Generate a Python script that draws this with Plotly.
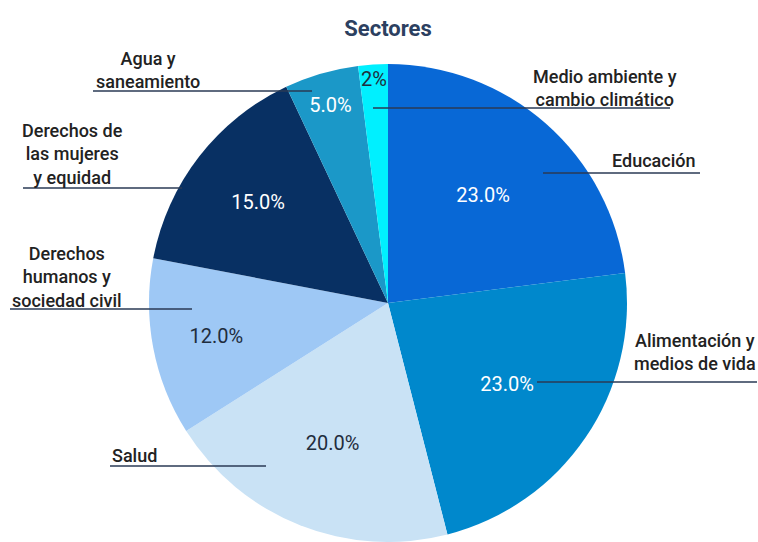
import plotly.graph_objects as go

W, H = 758, 542

sectors = ["Educación", "Alimentación y medios de vida", "Salud",
           "Derechos humanos y sociedad civil", "Derechos de las mujeres y equidad",
           "Agua y saneamiento", "Medio ambiente y cambio climático"]
values = [23.0, 23.0, 20.0, 12.0, 15.0, 5.0, 2.0]
pct_text = ["23.0%", "23.0%", "20.0%", "12.0%", "15.0%", "5.0%", "2%"]
colors = ["#0868d6", "#0088cc", "#c9e2f5", "#9ec8f5", "#083063", "#1b98c8", "#00f0ff"]
text_colors = ["#ffffff", "#ffffff", "#1f2d3d", "#1f2d3d", "#ffffff", "#ffffff", "#1f2d3d"]

# Label annotations: (text, x px, y px, xanchor, align)
labels = [
    ("Medio ambiente y<br>cambio climático", 605, 88, "center", "center"),
    ("Educación", 653, 160, "center", "center"),
    ("Agua y<br>saneamiento", 148, 70, "center", "center"),
    ("Derechos de<br>las mujeres<br>y equidad", 72, 154, "center", "center"),
    ("Derechos<br>humanos y<br>sociedad civil", 67, 277, "center", "center"),
    ("Alimentación y<br>medios de vida", 695, 352, "center", "center"),
    ("Salud", 110, 455, "left", "left"),
]
# Leader lines: (x0, x1, y) in px
lines = [
    (373, 670, 108),
    (543, 700, 173),
    (93, 312, 91),
    (23, 182, 188),
    (10, 192, 309),
    (537, 757, 382),
    (110, 266, 466),
]

cx, r = 388, 239
fig = go.Figure(go.Pie(
    labels=sectors, values=values, text=pct_text,
    texttemplate="%{text}", textinfo="text",
    textposition="inside", insidetextorientation="horizontal",
    textfont=dict(family="Roboto", size=20, color=text_colors),
    marker=dict(colors=colors, line=dict(width=0)),
    sort=False, direction="clockwise", rotation=0,
    domain=dict(x=[(cx - r) / W, (cx + r) / W], y=[0, 2 * r / H]),
    showlegend=False, hoverinfo="label+percent",
))

for t, x, y, xa, al in labels:
    fig.add_annotation(text=t, x=x / W, y=1 - y / H, xref="paper", yref="paper",
                       xanchor=xa, yanchor="middle", align=al, showarrow=False,
                       font=dict(family="Roboto", size=18, weight=500, color="#222222"))
for x0, x1, y in lines:
    fig.add_shape(type="line", xref="paper", yref="paper",
                  x0=x0 / W, x1=x1 / W, y0=1 - y / H, y1=1 - y / H,
                  line=dict(color="#2a3a55", width=1.5))

fig.update_layout(
    width=W, height=H, margin=dict(l=0, r=0, t=0, b=0),
    paper_bgcolor="white", plot_bgcolor="white",
    uniformtext=dict(minsize=19, mode="show"),
    title=dict(text="<b>Sectores</b>", x=388 / W, xanchor="center",
               y=1 - 28 / H, yanchor="middle",
               font=dict(family="Roboto", size=22, color="#2c4060")),
)
fig.write_html("out.html")
